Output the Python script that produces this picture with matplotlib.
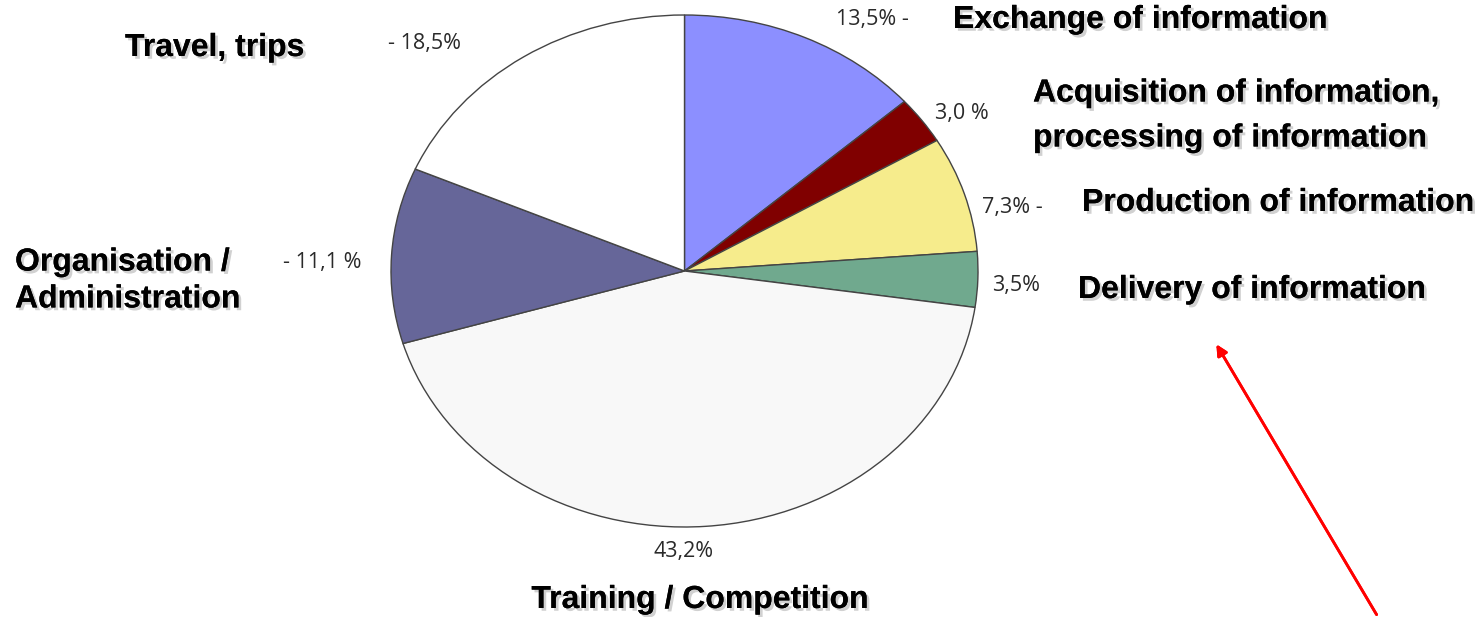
import matplotlib.pyplot as plt
import matplotlib.patheffects as pe

# slices, clockwise from 12 o'clock
cats = ["Exchange of information", "Acquisition of information,\nprocessing of information",
        "Production of information", "Delivery of information", "Training / Competition",
        "Organisation /\nAdministration", "Travel, trips"]
vals = [13.5, 3.0, 7.3, 3.5, 43.2, 11.1, 18.5]
pct = ["13,5% -", "3,0 %", "7,3% -", "3,5%", "43,2%", "- 11,1 %", "- 18,5%"]
cols = ["#8c8fff", "#800000", "#f6ec8c", "#70a98e", "#f8f8f8", "#666699", "#ffffff"]

W, H = 1479, 617
fig = plt.figure(figsize=(W / 100, H / 100), dpi=100)
ax = fig.add_axes([391 / W, 90 / H, 587 / W, 512 / H])
ax.pie(vals, colors=cols, startangle=90, counterclock=False,
       wedgeprops=dict(edgecolor="#444444", linewidth=1.0))
ax.set_aspect("auto")
ax.set_xlim(-1.0, 1.0)
ax.set_ylim(-1.0, 1.0)
ax.axis("off")

def px(x, y):
    return x / W, 1 - y / H

shadow = [pe.withSimplePatchShadow(offset=(2, -2), shadow_rgbFace="#999999", alpha=0.45), pe.Normal()]
bold = dict(fontsize=23, fontweight="bold", family="Liberation Sans", color="black",
            path_effects=shadow, va="center")
small = dict(fontsize=15.5, family="Open Sans", color="#2a2a2a", va="center")

# category labels (x, y, ha, linespacing) in pixels
lab_pos = [(953, 20, "left", 1), (1033, 116, "left", 1.65), (1082, 203, "left", 1),
           (1078, 290, "left", 1), (700, 600, "center", 1), (15, 281, "left", 1.3),
           (125, 48, "left", 1)]
pct_pos = [(836, 20, "left"), (935, 113, "left"), (982, 207, "left"), (992, 285, "left"),
           (684, 552, "center"), (283, 263, "left"), (388, 44, "left")]

for c, (x, y, ha, ls) in zip(cats, lab_pos):
    fig.text(*px(x, y), c, ha=ha, linespacing=ls, **bold)
for p, (x, y, ha) in zip(pct, pct_pos):
    fig.text(*px(x, y), p, ha=ha, **small)

fig.add_artist(plt.annotate("", xy=px(1215, 342), xytext=px(1378, 617),
                            xycoords="figure fraction", textcoords="figure fraction",
                            arrowprops=dict(arrowstyle="-|>", color="red", lw=2,
                                            mutation_scale=16)))

fig.savefig("out.png", dpi=100)
